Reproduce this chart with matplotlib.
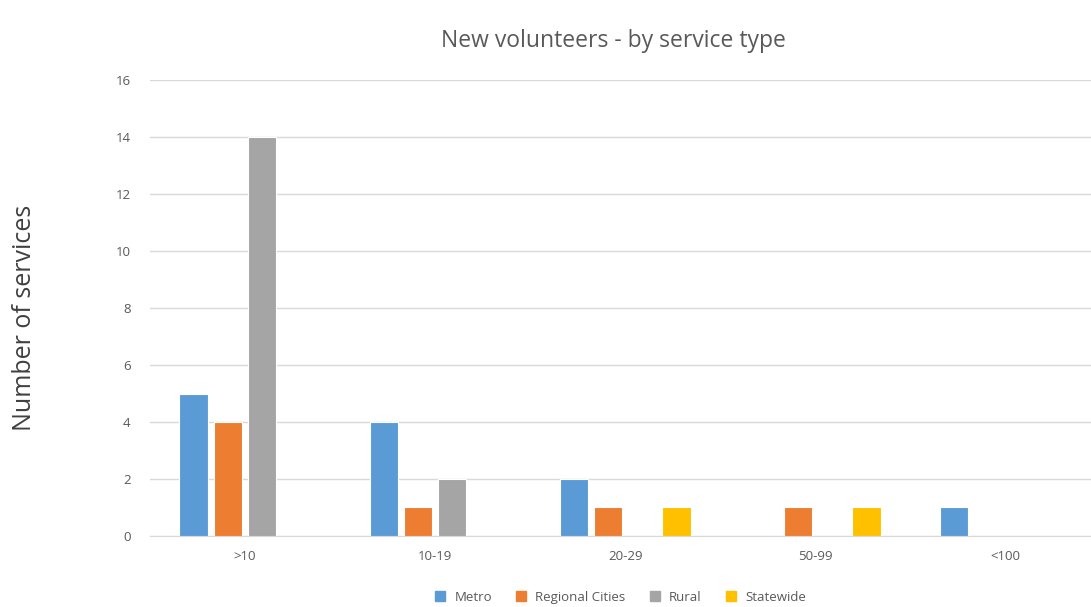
import numpy as np
import matplotlib
matplotlib.use("Agg")
import matplotlib.pyplot as plt
from matplotlib.lines import Line2D

plt.rcParams['font.family'] = ['Open Sans', 'DejaVu Sans']

# Данные по группам
categories = ['>10', '10-19', '20-29', '50-99', '<100']
series_names = ['Metro', 'Regional Cities', 'Rural', 'Statewide']
metro = [5, 4, 2, 0, 1]
regional = [4, 1, 1, 1, 0]
rural = [14, 2, 0, 0, 0]
statewide = [0, 0, 1, 1, 0]
colors = ['#5B9BD5', '#ED7D31', '#A5A5A5', '#FFC000']

fig = plt.figure(figsize=(10.91, 6.07), dpi=100)
ax = fig.add_axes([0.1375, 0.117, 0.871, 0.751])

x = np.arange(len(categories))
slot = 0.18
width = 0.15
for i, (vals, col) in enumerate(zip([metro, regional, rural, statewide], colors)):
    ax.bar(x + (i - 1.5) * slot, vals, width=width, color=col,
           edgecolor='white', linewidth=0.8, zorder=3)

ax.set_xlim(-0.5, len(categories) - 0.5)
ax.set_ylim(0, 16)
ax.set_yticks(range(0, 17, 2))
ax.set_xticks(x)
ax.set_xticklabels(categories)
ax.grid(axis='y', color='#D9D9D9', linewidth=1, zorder=0)
for s in ['top', 'right', 'left']:
    ax.spines[s].set_visible(False)
ax.spines['bottom'].set_color('#D9D9D9')
ax.tick_params(axis='both', length=0, labelsize=9.5, colors='#595959')
ax.tick_params(axis='y', pad=14)
ax.tick_params(axis='x', pad=10)

fig.text(0.562, 0.932, 'New volunteers - by service type', ha='center', va='center',
         fontsize=16.5, color='#595959')
fig.text(0.022, 0.476, 'Number of services', rotation=90, ha='center', va='center',
         fontsize=18, color='#404040')

handles = [Line2D([], [], marker='s', linestyle='', markersize=7, color=c) for c in colors]
fig.legend(handles, series_names, loc='center', bbox_to_anchor=(0.565, 0.016),
           ncol=4, frameon=False, fontsize=9.5, labelcolor='#595959',
           handletextpad=0.1, columnspacing=1.2)

fig.savefig('out.png', dpi=100)
